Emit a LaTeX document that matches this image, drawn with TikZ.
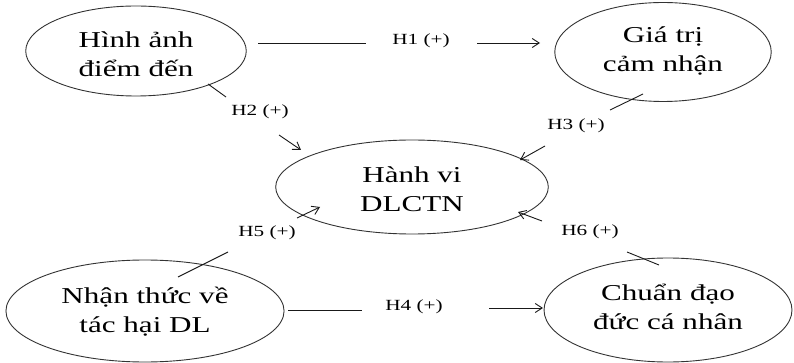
\documentclass[tikz,border=0pt]{standalone}
\usepackage{fontspec}
\setmainfont{Liberation Serif}
\usetikzlibrary{shapes.geometric,arrows.meta}
% two centred lines: first line held up to 26pt, last line given a depth of #3 pt
\newcommand{\ovaltext}[3]{\rule{0pt}{26pt}#1\\#2\rule[-#3pt]{0pt}{#3pt}}
\begin{document}
\begin{tikzpicture}[x=1pt,y=-1pt,
  oval/.style={draw=black!80, line width=0.9pt, ellipse, inner sep=0pt, align=center,
    font=\fontsize{22.7}{29}\selectfont, xscale=1.37},
  hyp/.style={font=\fontsize{15.5}{18}\selectfont, xscale=1.37, inner sep=0pt},
  conn/.style={line width=0.9pt, black!90},
  arr/.style={conn, -{Straight Barb[length=7pt,width=9pt]}}]
\useasboundingbox (0,0) rectangle (794,363);

\node[oval, minimum width=161pt, minimum height=90pt] (e1) at (136,51) {\ovaltext{Hình ảnh}{điểm đến}{3}};
\node[oval, minimum width=158pt, minimum height=82pt] (e2) at (663,52) {\ovaltext{Giá trị}{cảm nhận}{15}};
\node[oval, minimum width=199pt, minimum height=94pt] (e3) at (412,187) {\ovaltext{Hành vi}{DLCTN}{5}};
\node[oval, minimum width=203pt, minimum height=102pt] (e4) at (145,311) {\ovaltext{Nhận thức về}{tác hại DL}{13}};
\node[oval, minimum width=181pt, minimum height=104pt] (e5) at (668,310) {\ovaltext{Chuẩn đạo}{đức cá nhân}{17}};

% H1
\coordinate (h1a) at (258,43); \coordinate (h1b) at (366,43);
\node[hyp] (h1) at (421,41) {H1 (+)};
\coordinate (h1c) at (477,43); \coordinate (h1d) at (540,43);
\draw[conn] (h1a) -- (h1b);
\draw[arr] (h1c) -- (h1d);
% H2
\coordinate (h2a) at (208,84); \coordinate (h2b) at (226,97);
\node[hyp] (h2) at (260,112) {H2 (+)};
\coordinate (h2c) at (279,135); \coordinate (h2d) at (301,150);
\draw[conn] (h2a) -- (h2b);
\draw[arr] (h2c) -- (h2d);
% H3
\coordinate (h3a) at (643,94); \coordinate (h3b) at (610,110);
\node[hyp] (h3) at (576,126) {H3 (+)};
\coordinate (h3c) at (545,146); \coordinate (h3d) at (520,160);
\draw[conn] (h3a) -- (h3b);
\draw[arr] (h3c) -- (h3d);
% H5
\coordinate (h5a) at (178,277); \coordinate (h5b) at (228,252);
\node[hyp] (h5) at (267,233) {H5 (+)};
\coordinate (h5c) at (297,218); \coordinate (h5d) at (320,207);
\draw[conn] (h5a) -- (h5b);
\draw[arr] (h5c) -- (h5d);
% H6
\coordinate (h6a) at (659,265); \coordinate (h6b) at (627,252);
\node[hyp] (h6) at (590,232) {H6 (+)};
\coordinate (h6c) at (542,221); \coordinate (h6d) at (518,212);
\draw[conn] (h6a) -- (h6b);
\draw[arr] (h6c) -- (h6d);
% H4
\coordinate (h4a) at (288,310); \coordinate (h4b) at (362,310);
\node[hyp] (h4) at (414,307) {H4 (+)};
\coordinate (h4c) at (489,308); \coordinate (h4d) at (543,308);
\draw[conn] (h4a) -- (h4b);
\draw[arr] (h4c) -- (h4d);
\end{tikzpicture}
\end{document}
